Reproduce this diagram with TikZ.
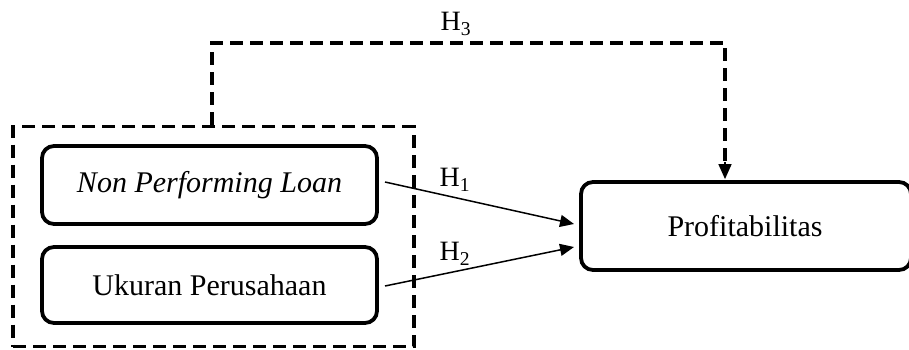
\documentclass[tikz,border=0pt]{standalone}
\usepackage{fontspec}
\setmainfont{Liberation Serif}
\usetikzlibrary{arrows.meta}
\begin{document}
\begin{tikzpicture}[x=1pt,y=-1pt,
  box/.style={draw=black,line width=3.8pt,rounded corners=12pt,inner sep=0pt,
    font=\fontsize{30}{34}\selectfont},
  groupbox/.style={draw=black,line width=3.5pt,dash pattern=on 13pt off 7pt,inner sep=0pt},
  dashline/.style={line width=3.5pt,dash pattern=on 13pt off 7pt},
  arr/.style={line width=1.5pt,-{Triangle[length=14pt,width=12pt]}},
  lbl/.style={font=\fontsize{28}{32}\selectfont,inner sep=0pt}]
\useasboundingbox (0,0) rectangle (909,349);
\node[groupbox,minimum width=401pt,minimum height=220pt] (group) at (213.5,236.5) {};
\node[box,minimum width=335pt,minimum height=78pt] (npl) at (209.5,185) {\itshape Non Performing Loan};
\node[box,minimum width=335pt,minimum height=76pt] (uk) at (209.5,285) {Ukuran Perusahaan};
\node[box,minimum width=330pt,minimum height=88pt] (prof) at (746,226) {};
\node[font=\fontsize{30}{34}\selectfont,inner sep=0pt] (proftext) at (745,226) {Profitabilitas};
\coordinate (c1) at (212,43);
\coordinate (c2) at (725,43);
\draw[dashline] (c1 |- group.north) -- (c1) -- (c2) -- ([yshift=16pt]c2 |- prof.north);
\draw[line width=1.5pt,-{Triangle[length=15pt,width=13pt]}] ([yshift=18pt]c2 |- prof.north) -- ([yshift=1pt]c2 |- prof.north);
\coordinate (s1) at (385,182);
\coordinate (e1) at (574,224);
\coordinate (s2) at (385,286);
\coordinate (e2) at (574,247);
\draw[arr] (s1) -- (e1);
\draw[arr] (s2) -- (e2);
\node[lbl] (h1) at (455,180) {H\textsubscript{1}};
\node[lbl] (h2) at (455,254) {H\textsubscript{2}};
\node[lbl] (h3) at (456,24) {H\textsubscript{3}};
\end{tikzpicture}
\end{document}
